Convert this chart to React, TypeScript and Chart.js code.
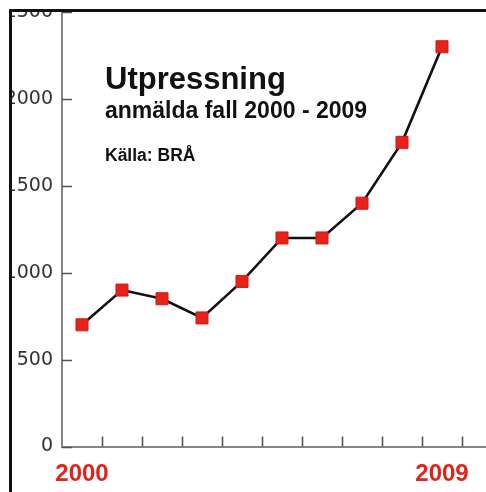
import React, { useEffect, useRef } from "react";
import { Chart, registerables } from "chart.js";

Chart.register(...registerables);

const years = ["2000", "2001", "2002", "2003", "2004", "2005", "2006", "2007", "2008", "2009"];
const cases = [700, 900, 850, 740, 950, 1200, 1200, 1400, 1750, 2300];
const yTickValues = [0, 500, 1000, 1500, 2000, 2500];
const labelledYears = ["2000", "2009"];

const tickMarks = {
  id: "tickMarks",
  beforeDatasetsDraw(chart: any) {
    const { ctx, scales, chartArea } = chart;
    const x = scales.x;
    const y = scales.y;
    ctx.save();
    ctx.strokeStyle = "#555";
    ctx.lineWidth = 1.6;
    ctx.beginPath();
    for (let i = 0; i < years.length; i++) {
      const px = Math.round(x.getPixelForValue(i + 0.5)) + 0.5;
      ctx.moveTo(px, chartArea.bottom);
      ctx.lineTo(px, chartArea.bottom - 10);
    }
    for (const v of yTickValues) {
      const py = Math.round(y.getPixelForValue(v)) + 0.5;
      ctx.moveTo(chartArea.left, py);
      ctx.lineTo(chartArea.left + 10, py);
    }
    ctx.stroke();
    ctx.restore();
  },
};

export default function App() {
  const ref = useRef<HTMLCanvasElement | null>(null);

  useEffect(() => {
    if (!ref.current) return;
    const pts = cases.map((v, i) => ({ x: i, y: v }));
    const chart = new Chart(ref.current, {
      type: "line",
      data: {
        datasets: [
          {
            data: pts,
            borderColor: "#111",
            borderWidth: 2.6,
            pointStyle: "rect",
            pointRadius: 8.5,
            pointBackgroundColor: "#e5231b",
            pointBorderColor: "#d01a14",
            pointBorderWidth: 1,
            tension: 0,
          },
          {
            data: pts,
            showLine: false,
            pointStyle: "rect",
            pointRadius: 2.2,
            pointBackgroundColor: "#111",
            pointBorderWidth: 0,
          },
        ],
      },
      plugins: [tickMarks],
      options: {
        animation: false,
        responsive: false,
        layout: { autoPadding: false, padding: { top: 12, left: 0, right: 0, bottom: 0 } },
        plugins: { legend: { display: false }, tooltip: { enabled: false }, title: { display: false } },
        scales: {
          x: {
            type: "linear",
            min: -0.5,
            max: 10.1,
            afterBuildTicks: (s: any) => {
              s.ticks = labelledYears.map((yr) => ({ value: years.indexOf(yr) }));
            },
            afterFit: (s: any) => {
              s.height = 45.5;
              s.paddingLeft = 0;
              s.paddingRight = 0;
            },
            grid: { display: false, drawTicks: false },
            border: { display: true, color: "#858585", width: 2 },
            ticks: {
              autoSkip: false,
              maxRotation: 0,
              padding: 13,
              color: "#e32219",
              font: { family: "'Liberation Sans', Arial, sans-serif", size: 24, weight: "bold" },
              callback: (v: any) => years[Math.round(Number(v))] ?? "",
            },
          },
          y: {
            min: 0,
            max: 2500,
            afterBuildTicks: (s: any) => {
              s.ticks = yTickValues.map((v) => ({ value: v }));
            },
            afterFit: (s: any) => {
              s.width = 62;
              s.paddingTop = 0;
              s.paddingBottom = 0;
            },
            grid: { display: false, drawTicks: false },
            border: { display: true, color: "#858585", width: 2 },
            ticks: {
              padding: 9,
              color: "#333",
              font: { family: "'DejaVu Sans', sans-serif", size: 19 },
              callback: (v: any) => String(v),
            },
          },
        },
      },
    });
    return () => chart.destroy();
  }, []);

  const textBase: React.CSSProperties = {
    position: "absolute",
    left: 105,
    fontFamily: "'Liberation Sans', Arial, sans-serif",
    fontWeight: "bold",
    color: "#111",
    lineHeight: 1,
    whiteSpace: "nowrap",
  };

  return (
    <div style={{ position: "fixed", left: 0, top: 0, width: 486, height: 492, background: "#fff", overflow: "hidden" }}>
      <div
        style={{
          position: "absolute",
          left: 9,
          top: 9,
          width: 477,
          height: 483,
          boxSizing: "border-box",
          borderLeft: "3px solid #111",
          borderTop: "3px solid #111",
          overflow: "hidden",
        }}
      >
        <canvas ref={ref} width={486} height={492} style={{ position: "absolute", left: -12, top: -12, width: 486, height: 492 }} />
      </div>
      <div style={{ ...textBase, top: 63, fontSize: 31 }}>Utpressning</div>
      <div style={{ ...textBase, top: 98.5, fontSize: 23 }}>anmälda fall 2000 - 2009</div>
      <div style={{ ...textBase, top: 146.5, fontSize: 17.5 }}>Källa: BRÅ</div>
    </div>
  );
}
